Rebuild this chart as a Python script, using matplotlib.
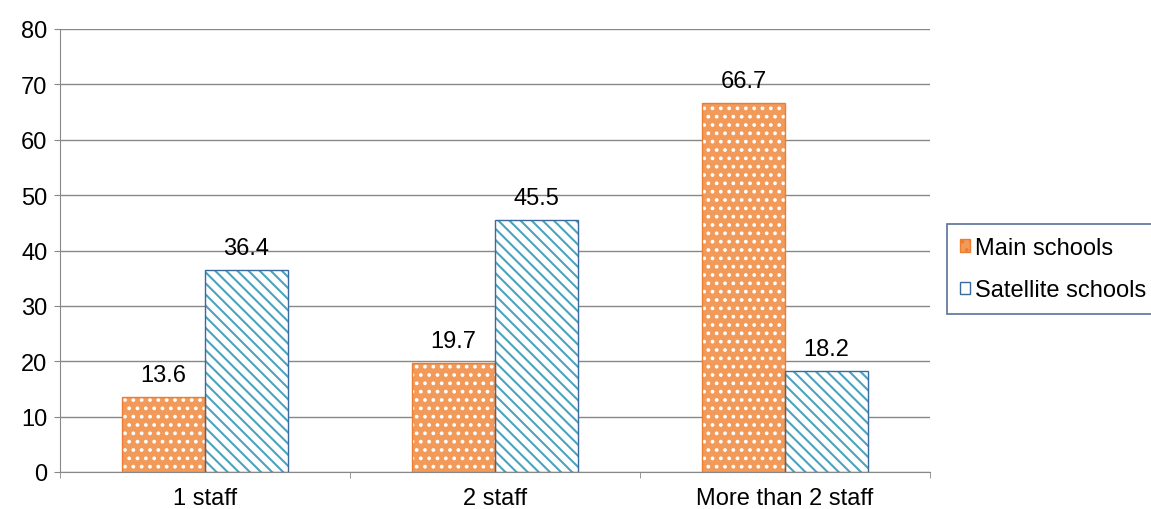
import numpy as np
import matplotlib.pyplot as plt
from matplotlib.patches import Patch

plt.rcParams['font.family'] = ['Liberation Sans', 'DejaVu Sans']
plt.rcParams['hatch.linewidth'] = 1.5

categories = ['1 staff', '2 staff', 'More than 2 staff']
main_schools = [13.6, 19.7, 66.7]
satellite_schools = [36.4, 45.5, 18.2]

fs = 17

fig = plt.figure(figsize=(11.51, 5.10), dpi=100)
ax = fig.add_axes([60/1151, 37/510, 870/1151, 443/510])

x = np.arange(len(categories))
w = 0.286

# fills with pattern
ax.bar(x - w/2, main_schools, w, color='#F29A5A', hatch='..', edgecolor='white', linewidth=0, zorder=2)
ax.bar(x + w/2, satellite_schools, w, color='white', hatch='\\\\\\', edgecolor='#4BA3BE', linewidth=0, zorder=2)
# outlines
ax.bar(x - w/2, main_schools, w, fill=False, edgecolor='#ED7D31', linewidth=1, zorder=3)
ax.bar(x + w/2, satellite_schools, w, fill=False, edgecolor='#3A6A9E', linewidth=1, zorder=3)

for xi, v in zip(x - w/2, main_schools):
    ax.text(xi, v + 2.0, f'{v:.1f}', ha='center', va='bottom', fontsize=fs)
for xi, v in zip(x + w/2, satellite_schools):
    ax.text(xi, v + 2.0, f'{v:.1f}', ha='center', va='bottom', fontsize=fs)

ax.set_xlim(-0.5, 2.5)
ax.set_ylim(0, 80)
ax.set_yticks(range(0, 81, 10))
ax.tick_params(axis='y', labelsize=fs, length=4, color='#888888', pad=5)
ax.set_xticks(x)
ax.set_xticklabels(categories, fontsize=fs)
ax.tick_params(axis='x', length=0, pad=11)
ax.set_xticks([-0.5, 0.5, 1.5, 2.5], minor=True)
ax.tick_params(axis='x', which='minor', length=4, color='#888888')

ax.yaxis.grid(True, color='#888888', linewidth=1)
ax.set_axisbelow(True)
for s in ['top', 'right']:
    ax.spines[s].set_visible(False)
ax.spines['left'].set_color('#888888')
ax.spines['bottom'].set_color('#888888')

handles = [Patch(facecolor='#F29A5A', edgecolor='#ED7D31', hatch='..', label='Main schools'),
           Patch(facecolor='white', edgecolor='#3A6A9E', label='Satellite schools')]
leg = fig.legend(handles=handles, loc='upper left', bbox_to_anchor=(947/1151, 1 - 225/510),
                 fontsize=fs, frameon=True, fancybox=False, handlelength=0.42, handleheight=0.42,
                 handletextpad=0.2, borderpad=0.55, labelspacing=0.85, borderaxespad=0)
leg.get_frame().set_edgecolor('#2E4E7E')
leg.get_frame().set_linewidth(1.2)

fig.savefig('out.png', dpi=100)
